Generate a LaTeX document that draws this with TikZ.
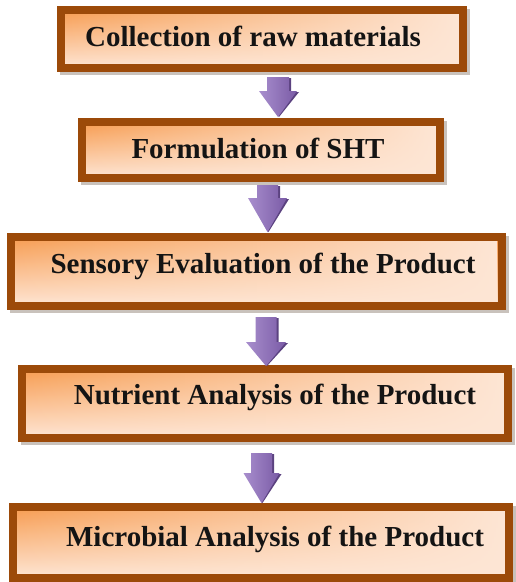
\documentclass[tikz,border=0pt]{standalone}
\usepackage{fontspec}
\setmainfont{Liberation Serif}
\usetikzlibrary{calc,backgrounds,fadings}
\definecolor{brd}{HTML}{9C4A09}
\definecolor{org}{HTML}{F79D52}
\definecolor{pch}{HTML}{FEE6D5}
\definecolor{pl}{HTML}{A88ECD}
\definecolor{pd}{HTML}{7A5BA6}
\definecolor{psh}{HTML}{5B4280}
\definecolor{shd}{HTML}{C9C2BC}
\tikzset{
  stepbox/.style={draw=brd, line width=8pt, inner sep=0pt, top color=org, bottom color=pch},
  boxglow/.style={fill=pch, path fading=west},
  steptext/.style={font=\bfseries\fontsize{29}{32}\selectfont, inner sep=0pt, text=black!92, anchor=base},
  boxshadow/.style={fill=shd},
  flowarrow/.style={left color=pl, right color=pd, draw=none},
  arrowshadow/.style={fill=psh},
}
\newcommand\blockarrow[6]{%
  \fill[arrowshadow] ({#1-#5/2+2},{#2+1}) -- ({#1+#5/2+2},{#2+1}) -- ({#1+#5/2+2},{#3+1}) -- ({#1+#6/2+2},{#3+1}) -- ({#1+1},{#4}) -- ({#1-#6/2+2},{#3+1}) -- ({#1-#5/2+2},{#3+1}) -- cycle;
  \path[flowarrow] ({#1-#5/2},#2) -- ({#1+#5/2},#2) -- ({#1+#5/2},#3) -- ({#1+#6/2},#3) -- (#1,#4) -- ({#1-#6/2},#3) -- ({#1-#5/2},#3) -- cycle;
}
\begin{document}
\begin{tikzpicture}[x=1pt,y=-1pt]
\useasboundingbox (0,0) rectangle (515,582);
% boxes
\node[stepbox, minimum width=402pt, minimum height=58pt] (b1) at (262,39) {};
\node[stepbox, minimum width=358pt, minimum height=56pt] (b2) at (261,150) {};
\node[stepbox, minimum width=491pt, minimum height=69pt] (b3) at (256.5,271.5) {};
\node[stepbox, minimum width=486pt, minimum height=69pt] (b4) at (265,403.5) {};
\node[stepbox, minimum width=496pt, minimum height=71pt] (b5) at (261,542.5) {};
% light wash towards the right, and shadows
\foreach \b in {b1,b2,b3,b4,b5}
  \fill[boxglow] ($(\b.north west)+(8pt,-8pt)$) rectangle ($(\b.south east)+(-8pt,8pt)$);
\begin{scope}[on background layer]
\foreach \b in {b1,b2,b3,b4,b5}
  \fill[boxshadow] ($(\b.north west)+(3pt,-3pt)$) rectangle ($(\b.south east)+(3pt,-3pt)$);
\end{scope}
% texts
\node[steptext] (t1) at (253,46) {Collection of raw materials};
\node[steptext] (t2) at (258,158) {Formulation of SHT};
\node[steptext] (t3) at (263,273) {Sensory Evaluation of the Product};
\node[steptext] (t4) at (275,404) {Nutrient Analysis of the Product};
\node[steptext] (t5) at (275,546) {Microbial Analysis of the Product};
% arrows
\blockarrow{278}{77}{91}{117}{22}{38}
\blockarrow{267.5}{185}{198}{232}{21}{39}
\blockarrow{266}{317}{342}{366}{21}{40}
\blockarrow{261.5}{453}{473}{503}{21}{36}
\end{tikzpicture}
\end{document}
